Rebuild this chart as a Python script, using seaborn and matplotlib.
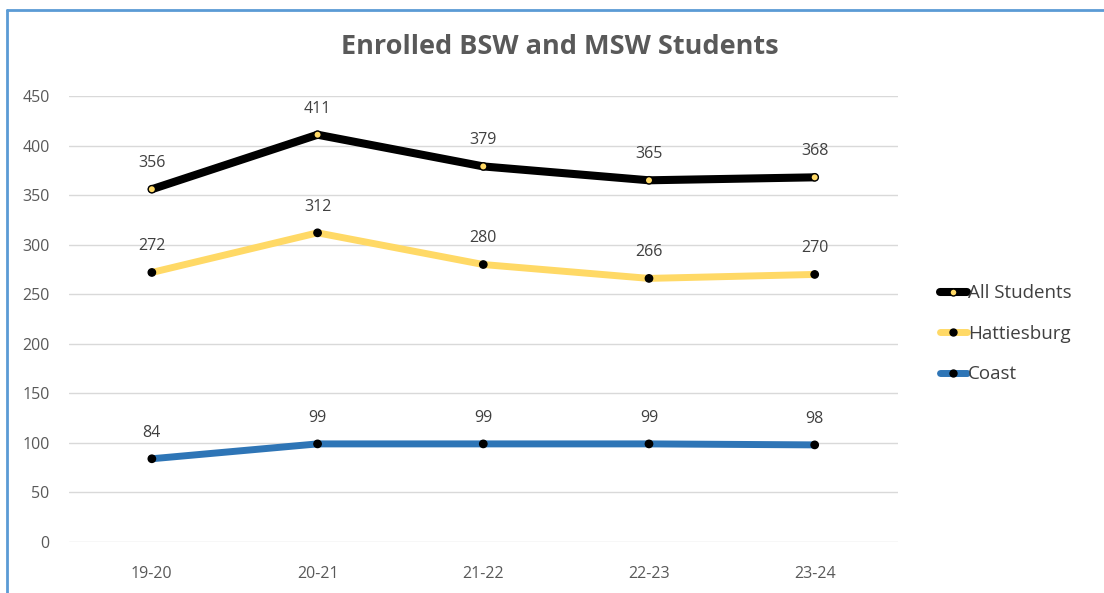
import numpy as np
import pandas as pd
import seaborn as sns
import matplotlib.pyplot as plt
from matplotlib.lines import Line2D

years = ['19-20', '20-21', '21-22', '22-23', '23-24']
all_students = [356, 411, 379, 365, 368]
hattiesburg = [272, 312, 280, 266, 270]
coast = [84, 99, 99, 99, 98]

series_names = ['All Students', 'Hattiesburg', 'Coast']
line_colors = {'All Students': '#000000', 'Hattiesburg': '#FFD966', 'Coast': '#2E75B6'}
marker_colors = {'All Students': '#FFD966', 'Hattiesburg': '#000000', 'Coast': '#000000'}
line_widths = {'All Students': 5.8, 'Hattiesburg': 5.0, 'Coast': 5.0}

df = pd.DataFrame({
    'year': years * 3,
    'series': ['All Students'] * 5 + ['Hattiesburg'] * 5 + ['Coast'] * 5,
    'value': all_students + hattiesburg + coast,
})
df['x'] = df['year'].map({y: i for i, y in enumerate(years)})

sns.set_style('white')
plt.rcParams['font.family'] = ['Open Sans', 'DejaVu Sans']

fig = plt.figure(figsize=(11.04, 5.93), dpi=100)
ax = fig.add_axes([0.0625, 0.086, 0.7505, 0.752])

for name in series_names:
    sns.lineplot(data=df[df['series'] == name], x='x', y='value', color=line_colors[name],
                 linewidth=line_widths[name], legend=False, ax=ax, zorder=3)
sns.scatterplot(data=df, x='x', y='value', hue='series', palette=marker_colors,
                s=28, edgecolor='black', linewidth=1, legend=False, ax=ax, zorder=4)

# data labels
for _, row in df.iterrows():
    ax.annotate(str(row['value']), (row['x'], row['value']), textcoords='offset points',
                xytext=(0, 13), ha='center', va='bottom', fontsize=11.5, color='#404040')

ax.set_xlim(-0.5, len(years) - 0.5)
ax.set_ylim(0, 450)
ax.set_yticks(np.arange(0, 451, 50))
ax.set_xticks(range(len(years)))
ax.set_xticklabels(years)
ax.yaxis.grid(True, color='#D9D9D9', linewidth=1)
ax.tick_params(axis='both', length=0, labelsize=11.5, labelcolor='#595959')
ax.tick_params(axis='x', pad=17)
ax.tick_params(axis='y', pad=14)
ax.set_xlabel('')
ax.set_ylabel('')
for s in ax.spines.values():
    s.set_visible(False)

fig.text(0.507, 0.92, 'Enrolled BSW and MSW Students', ha='center', va='center',
         fontsize=19.5, fontweight='bold', color='#595959')

handles = [Line2D([0], [0], color=line_colors[n], linewidth=line_widths[n], marker='o',
                  markersize=5, markerfacecolor=marker_colors[n], markeredgecolor='black')
           for n in series_names]
leg = fig.legend(handles, series_names, loc='center left', bbox_to_anchor=(0.836, 0.437),
                 frameon=False, fontsize=13.5, handlelength=1.45, handletextpad=0.05,
                 labelspacing=1.2, labelcolor='#404040')

# outer chart border (only top and left visible in the crop)
fig.add_artist(Line2D([0.006, 1.0], [0.983, 0.983], color='#5B9BD5', linewidth=2))
fig.add_artist(Line2D([0.006, 0.006], [0.0, 0.983], color='#5B9BD5', linewidth=2))

fig.savefig('out.png', dpi=100)
